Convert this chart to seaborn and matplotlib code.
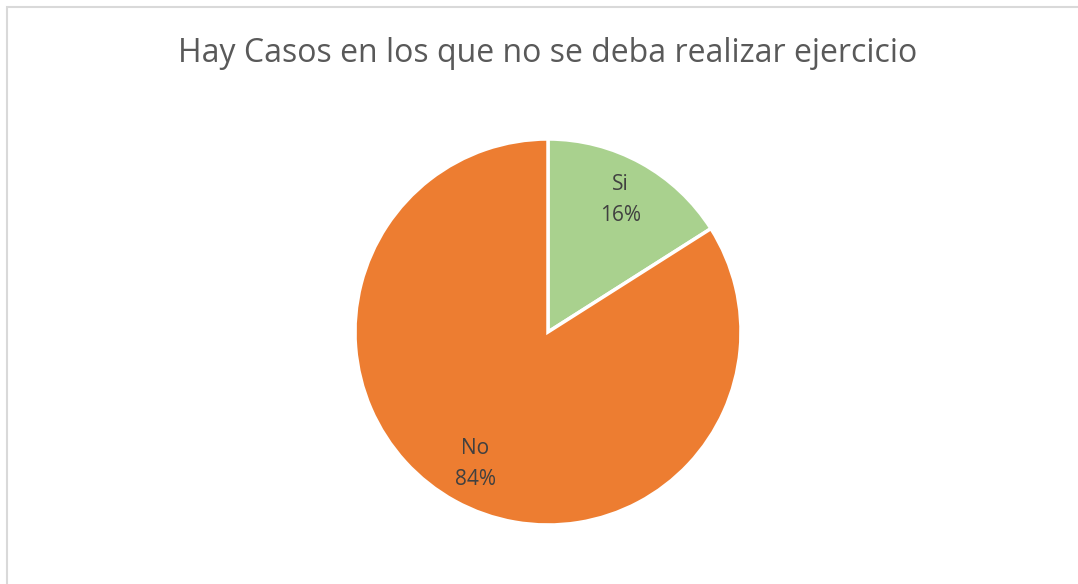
import matplotlib
matplotlib.use("Agg")
import matplotlib.pyplot as plt
import seaborn as sns
from matplotlib.patches import Rectangle

sns.set_theme(style="white")
plt.rcParams['font.family'] = ['Open Sans', 'DejaVu Sans']

categories = ["Si", "No"]
values = [16, 84]
colors = ["#A9D18E", "#ED7D31"]
title = "Hay Casos en los que no se deba realizar ejercicio"

fig = plt.figure(figsize=(10.78, 5.84), dpi=100)
fig.patch.set_facecolor("white")
# chart area border
fig.patches.append(Rectangle((6.5 / 1078, -0.1), 1.2, (584 - 7 + 58.4) / 584 ,
                             transform=fig.transFigure, fill=False,
                             edgecolor="#D9D9D9", linewidth=1.5))

ax = fig.add_axes([(548 - 193) / 1078, (584 - 525) / 584, 386 / 1078, 386 / 584])
labels = [f"{c}\n{v}%" for c, v in zip(categories, values)]
wedges, texts = ax.pie(values, labels=labels, colors=colors, startangle=90,
                       counterclock=False, labeldistance=0.78,
                       wedgeprops=dict(edgecolor="white", linewidth=2.5),
                       textprops=dict(color="#404040", fontsize=15))
for t in texts:
    t.set_ha("center")
    t.set_va("center")
    t.set_linespacing(1.6)
ax.set_aspect("equal")
ax.set_xlim(-1, 1)
ax.set_ylim(-1, 1)

fig.text(548 / 1078, 1 - 53 / 584, title, ha="center", va="center",
         fontsize=23, color="#595959")

fig.savefig("out.png", dpi=100, facecolor="white")
